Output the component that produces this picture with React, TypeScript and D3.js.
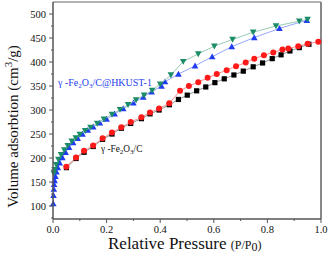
import React from 'react';
import * as d3 from 'd3';

// γ-Fe2O3/C adsorption (black squares)
const blackX = [0.05, 0.086, 0.116, 0.15, 0.185, 0.22, 0.255, 0.29, 0.33, 0.362, 0.396, 0.434, 0.468, 0.501, 0.536, 0.57, 0.604, 0.639, 0.675, 0.71, 0.747, 0.782, 0.818, 0.851, 0.884, 0.919, 0.955];
const blackY = [180, 199, 212, 224, 239, 250, 262, 272, 282, 292, 300, 311, 322, 331, 340, 348, 357, 365, 373, 381, 390, 398, 407, 415, 423, 430, 437];

// γ-Fe2O3/C desorption (red circles)
const redX = [0.05, 0.086, 0.116, 0.15, 0.185, 0.22, 0.255, 0.29, 0.33, 0.362, 0.396, 0.434, 0.474, 0.507, 0.542, 0.577, 0.611, 0.648, 0.683, 0.719, 0.751, 0.787, 0.822, 0.856, 0.878, 0.915, 0.95, 0.99];
const redY = [182, 201, 215, 226, 241, 253, 264, 275, 285, 295, 303, 314, 340, 350, 358, 367, 375, 383, 391, 399, 407, 414, 420, 426, 428, 433, 438, 442];

// γ-Fe2O3/C@HKUST-1 adsorption (blue triangles)
const blueX = [0.001, 0.002, 0.003, 0.004, 0.006, 0.009, 0.013, 0.018, 0.025, 0.035, 0.047, 0.06, 0.075, 0.092, 0.11, 0.13, 0.15, 0.175, 0.2, 0.23, 0.262, 0.3, 0.337, 0.368, 0.405, 0.418, 0.468, 0.53, 0.594, 0.667, 0.751, 0.845, 0.947];
const blueY = [105, 122, 135, 145, 153, 162, 171, 180, 190, 201, 212, 222, 232, 241, 250, 258, 265, 273, 281, 292, 303, 315, 327, 338, 350, 359, 375, 392, 411, 432, 451, 470, 487];

// γ-Fe2O3/C@HKUST-1 desorption (green triangles)
const greenX = [0.95, 0.919, 0.832, 0.747, 0.67, 0.602, 0.542, 0.486, 0.44, 0.4, 0.37, 0.34, 0.31, 0.28, 0.25, 0.22, 0.19, 0.165, 0.14, 0.12, 0.1, 0.085, 0.07, 0.055, 0.042, 0.03, 0.02, 0.012, 0.006, 0.003];
const greenY = [489, 485, 475, 462, 447, 433, 417, 401, 373, 354, 341, 331, 321, 311, 301, 291, 281, 272, 264, 257, 249, 242, 235, 226, 217, 207, 197, 186, 176, 168];

const xTicks = [0, 0.2, 0.4, 0.6, 0.8, 1.0];
const yTicks = [100, 150, 200, 250, 300, 350, 400, 450, 500];

const W = 329;
const H = 259;
const left = 53, right = 321, top = 2, bottom = 219;

const serif = { fontFamily: "'Liberation Serif', 'Times New Roman', Times, serif" };

export default function App() {
  const x = d3.scaleLinear().domain([0, 1]).range([left, right]);
  const y = d3.scaleLinear().domain([73, 525]).range([bottom, top]);
  const line = d3.line<[number, number]>().x(d => x(d[0])).y(d => y(d[1]));

  const pts = (xs: number[], ys: number[]) => xs.map((v, i) => [v, ys[i]] as [number, number]);
  const black = pts(blackX, blackY);
  const red = pts(redX, redY);
  const blue = pts(blueX, blueY);
  const green = pts(greenX, greenY);

  const xMinor = d3.range(0.1, 1, 0.2);
  const yMinor = d3.range(75, 525, 50);

  const tri = (cx: number, cy: number, up: boolean) => {
    const s = 3.3;
    return up
      ? `M${cx},${cy - s}L${cx + s},${cy + s * 0.8}L${cx - s},${cy + s * 0.8}Z`
      : `M${cx},${cy + s}L${cx + s},${cy - s * 0.8}L${cx - s},${cy - s * 0.8}Z`;
  };

  return (
    <svg width={W} height={H} style={{ position: 'absolute', left: 0, top: 0, background: '#fff' }}>
      {/* frame */}
      <line x1={left} x2={right} y1={top} y2={top} stroke="#666" strokeWidth={1.2} />
      <line x1={right} x2={right} y1={top} y2={bottom} stroke="#888" strokeWidth={2} />

      {/* series */}
      <path d={line(black) || ''} fill="none" stroke="#777" strokeWidth={0.8} />
      {black.map((d, i) => (
        <rect key={'b' + i} x={x(d[0]) - 2.6} y={y(d[1]) - 2.6} width={5.2} height={5.2} fill="#000" />
      ))}
      <path d={line(red) || ''} fill="none" stroke="#ff7070" strokeWidth={0.8} />
      {red.map((d, i) => (
        <circle key={'r' + i} cx={x(d[0])} cy={y(d[1])} r={3} fill="#ff1a1a" />
      ))}
      <path d={line(blue) || ''} fill="none" stroke="#8c9cff" strokeWidth={0.9} />
      {blue.map((d, i) => (
        <path key={'u' + i} d={tri(x(d[0]), y(d[1]), true)} fill="#1f3cf0" />
      ))}
      <path d={line(green) || ''} fill="none" stroke="#8cc4ac" strokeWidth={0.9} />
      {green.map((d, i) => (
        <path key={'g' + i} d={tri(x(d[0]), y(d[1]), false)} fill="#1a8c68" />
      ))}

      {/* axes */}
      <line x1={left} x2={left} y1={top} y2={bottom} stroke="#555" strokeWidth={1.5} />
      <line x1={left} x2={right} y1={bottom} y2={bottom} stroke="#555" strokeWidth={1.5} />
      {xTicks.map(t => (
        <g key={'xt' + t}>
          <line x1={x(t)} x2={x(t)} y1={bottom} y2={bottom + 4} stroke="#555" strokeWidth={1} />
          <text x={x(t)} y={bottom + 13.5} textAnchor="middle" style={serif} fontSize={10.5} fill="#111">{t.toFixed(1)}</text>
        </g>
      ))}
      {xMinor.map(t => (
        <line key={'xm' + t} x1={x(t)} x2={x(t)} y1={bottom} y2={bottom + 2} stroke="#555" strokeWidth={1} />
      ))}
      {yTicks.map(t => (
        <g key={'yt' + t}>
          <line x1={left - 4} x2={left} y1={y(t)} y2={y(t)} stroke="#555" strokeWidth={1} />
          <text x={left - 7} y={y(t) + 3.6} textAnchor="end" style={serif} fontSize={10.5} fill="#111">{t}</text>
        </g>
      ))}
      {yMinor.map(t => (
        <line key={'ym' + t} x1={left - 2} x2={left} y1={y(t)} y2={y(t)} stroke="#555" strokeWidth={1} />
      ))}

      {/* annotations */}
      <text x={58} y={86} style={serif} fontSize={10} fill="#2440f0">
        γ -Fe<tspan fontSize={7} dy={2}>2</tspan><tspan dy={-2}>O</tspan><tspan fontSize={7} dy={2}>3</tspan><tspan dy={-2}>/C@HKUST-1</tspan>
      </text>
      <text x={101} y={152} style={serif} fontSize={9.3} fill="#111">
        γ -Fe<tspan fontSize={7} dy={2}>2</tspan><tspan dy={-2}>O</tspan><tspan fontSize={7} dy={2}>3</tspan><tspan dy={-2}>/C</tspan>
      </text>

      {/* axis titles */}
      <text x={108} y={249} style={serif} fontSize={17} fill="#111">
        Relative Pressure <tspan fontSize={12}>(P/P</tspan><tspan fontSize={12} dy={2}>0</tspan><tspan fontSize={12} dy={-2}>)</tspan>
      </text>
      <text transform={`translate(18,${(top + bottom) / 2 + 16}) rotate(-90)`} textAnchor="middle" style={serif} fontSize={15} fill="#111">
        Volume adsorbtion (cm<tspan fontSize={11} dy={-6}>3</tspan><tspan dy={6}>/g)</tspan>
      </text>
    </svg>
  );
}
